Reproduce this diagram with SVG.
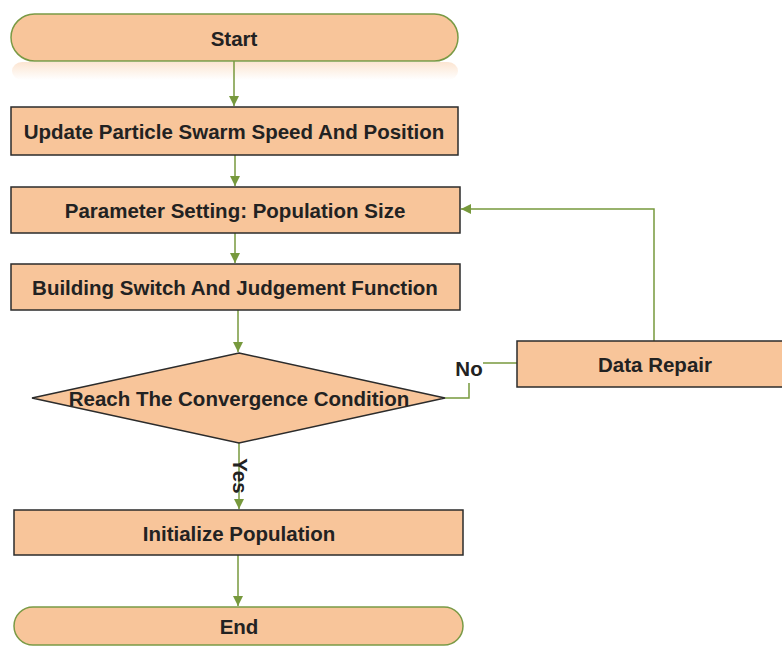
<svg xmlns="http://www.w3.org/2000/svg" width="782" height="649" viewBox="0 0 782 649">
<style>
.box{fill:#F8C59A;stroke:#2b2b2b;stroke-width:1.5}
.term{fill:#F8C59A;stroke:#7A9A45;stroke-width:1.5}
.ln{fill:none;stroke:#77993D;stroke-width:1.5}
.t{font-family:"Liberation Sans",Arial,sans-serif;font-weight:bold;font-size:20.5px;fill:#222;text-anchor:middle;dominant-baseline:central}
</style>
<defs>
<marker id="ar" markerWidth="12" markerHeight="12" refX="10" refY="5" orient="auto" markerUnits="userSpaceOnUse">
<path d="M0,0 L10,5 L0,10 Z" fill="#77993D"/>
</marker>
<linearGradient id="refl" x1="0" y1="0" x2="0" y2="1">
<stop offset="0" stop-color="#F8C59A" stop-opacity="0.45"/>
<stop offset="1" stop-color="#F8C59A" stop-opacity="0"/>
</linearGradient>
</defs>
<rect x="12" y="62" width="446" height="18" rx="10" fill="url(#refl)"/>
<g id="connectors">
<line class="ln" x1="234" y1="61" x2="234" y2="106" marker-end="url(#ar)"/>
<line class="ln" x1="235" y1="155" x2="235" y2="186" marker-end="url(#ar)"/>
<line class="ln" x1="235" y1="233" x2="235" y2="263" marker-end="url(#ar)"/>
<line class="ln" x1="238" y1="310" x2="238" y2="352" marker-end="url(#ar)"/>
<polyline class="ln" points="445,398 469,398 469,383"/>
<line class="ln" x1="483" y1="363" x2="517" y2="363"/>
<polyline class="ln" points="654,341 654,209 461,209" marker-end="url(#ar)"/>
<line class="ln" x1="239" y1="443" x2="239" y2="509" marker-end="url(#ar)"/>
<line class="ln" x1="238" y1="555" x2="238" y2="606" marker-end="url(#ar)"/>
<text class="t" x="469" y="368">No</text>
<text class="t" transform="translate(240,476) rotate(90)" x="0" y="0">Yes</text>
</g>
<g id="start">
<rect class="term" x="11" y="14" width="447" height="47" rx="23.5"/>
<text class="t" x="234" y="38">Start</text>
</g>
<g id="update">
<rect class="box" x="11" y="107" width="447" height="48"/>
<text class="t" x="234" y="131">Update Particle Swarm Speed And Position</text>
</g>
<g id="param">
<rect class="box" x="11" y="187" width="449" height="46"/>
<text class="t" x="235" y="210">Parameter Setting: Population Size</text>
</g>
<g id="building">
<rect class="box" x="11" y="264" width="449" height="46"/>
<text class="t" x="235" y="287">Building Switch And Judgement Function</text>
</g>
<g id="decision">
<polygon class="box" stroke-width="1" points="239,353 445,398 239,443 32,398"/>
<text class="t" x="239" y="398">Reach The Convergence Condition</text>
</g>
<g id="repair">
<rect class="box" x="517" y="341" width="270" height="46"/>
<text class="t" x="655" y="364">Data Repair</text>
</g>
<g id="init">
<rect class="box" x="14" y="510" width="449" height="45"/>
<text class="t" x="239" y="533">Initialize Population</text>
</g>
<g id="end">
<rect class="term" x="14" y="607" width="449" height="38" rx="19"/>
<text class="t" x="239" y="626">End</text>
</g>
</svg>
